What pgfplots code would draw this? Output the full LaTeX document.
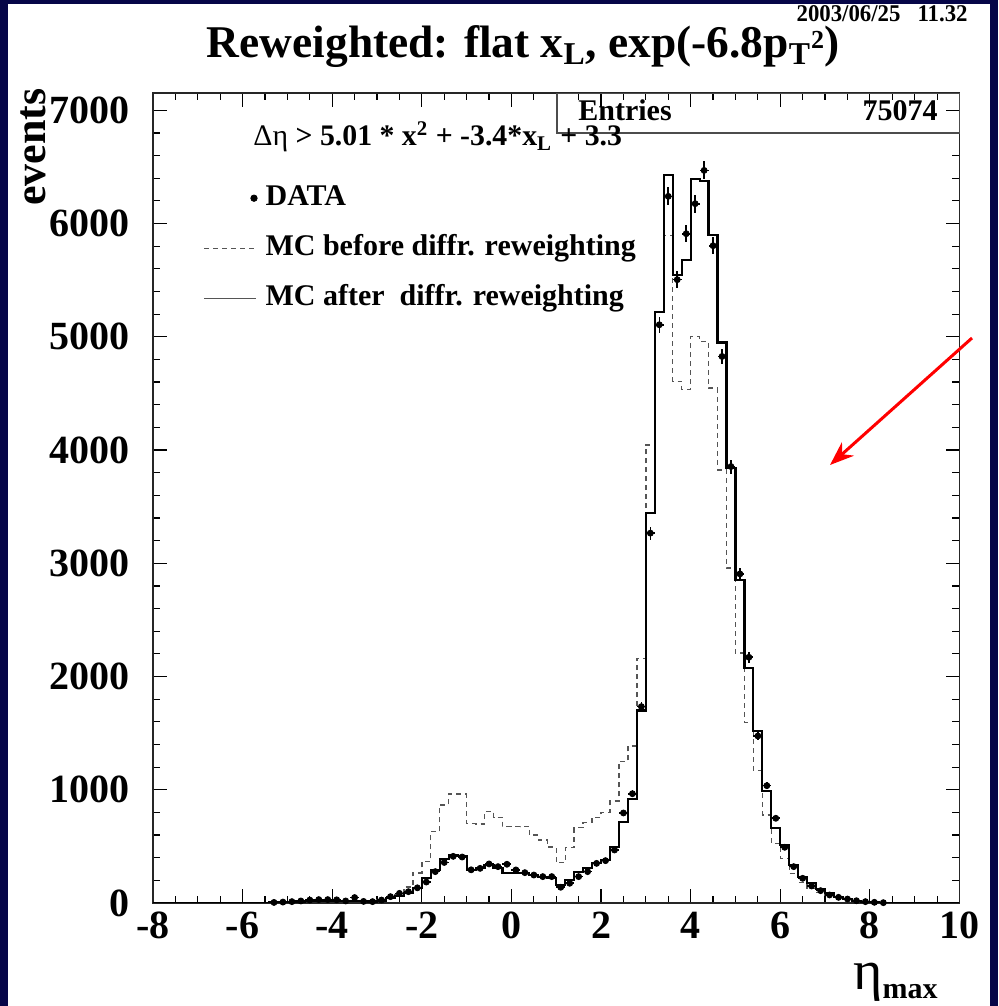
\documentclass[border=0pt]{standalone}
\usepackage{fontspec}
\setmainfont{Liberation Serif}
\usepackage{pgfplots}
\pgfplotsset{compat=1.18}
\usepackage{pgfplotstable}
\usetikzlibrary{arrows.meta}
\definecolor{navy}{RGB}{6,6,72}
\definecolor{dashgray}{RGB}{85,85,85}

\pgfplotstableread{
x after before
-8.0 0 0
-6.0 1 1
-5.8 2 2
-5.6 3 4
-5.4 5 6
-5.2 8 9
-5.0 10 12
-4.8 13 15
-4.6 16 18
-4.4 18 20
-4.2 20 22
-4.0 21 23
-3.8 20 22
-3.6 18 20
-3.4 15 17
-3.2 14 16
-3.0 20 25
-2.8 41 50
-2.6 60 75
-2.4 91 140
-2.2 130 265
-2.0 218 365
-1.8 292 630
-1.6 386 866
-1.4 424 962
-1.2 418 962
-1.0 292 700
-0.8 306 698
-0.6 336 810
-0.4 306 755
-0.2 268 674
0.0 268 674
0.2 262 678
0.4 247 601
0.6 233 557
0.8 218 495
1.0 159 355
1.2 203 490
1.4 277 665
1.6 306 710
1.8 350 755
2.0 380 800
2.2 492 900
2.4 714 1248
2.6 916 1385
2.8 1700 2161
3.0 3443 4046
3.2 5218 5218
3.4 6431 5892
3.6 5548 4605
3.8 5680 4532
4.0 6393 5003
4.2 6372 4959
4.4 5901 4547
4.6 4950 3825
4.8 3840 2957
5.0 2853 2206
5.2 2073 1593
5.4 1522 1169
5.6 992 777
5.8 665 527
6.0 512 395
6.2 336 260
6.4 233 180
6.6 174 130
6.8 121 95
7.0 86 65
7.2 56 42
7.4 35 28
7.6 20 17
7.8 12 10
8.0 6 5
8.2 3 3
8.4 1 1
8.6 0 0
10.0 0 0
}\histtab

\pgfplotstableread{
x ex y ey
-5.3 0.1 5 3
-5.1 0.1 8 4
-4.9 0.1 12 5
-4.7 0.1 18 5
-4.5 0.1 26 6
-4.3 0.1 30 6
-4.1 0.1 30 6
-3.9 0.1 28 6
-3.7 0.1 18 5
-3.5 0.1 48 16
-3.3 0.1 14 5
-3.1 0.1 12 4
-2.9 0.1 26 6
-2.7 0.1 56 8
-2.5 0.1 85 10
-2.3 0.1 100 11
-2.1 0.1 134 12
-1.9 0.1 185 14
-1.7 0.1 277 17
-1.5 0.1 358 19
-1.3 0.1 412 20
-1.1 0.1 406 20
-0.9 0.1 293 17
-0.7 0.1 306 17
-0.5 0.1 345 19
-0.3 0.1 321 18
-0.1 0.1 342 18
0.1 0.1 292 17
0.3 0.1 268 16
0.5 0.1 247 16
0.7 0.1 233 15
0.9 0.1 233 15
1.1 0.1 139 12
1.3 0.1 174 13
1.5 0.1 233 15
1.7 0.1 277 17
1.9 0.1 350 19
2.1 0.1 374 19
2.3 0.1 468 22
2.5 0.1 795 28
2.7 0.1 965 31
2.9 0.1 1734 42
3.1 0.1 3266 57
3.3 0.1 5106 71
3.5 0.1 6240 79
3.7 0.1 5504 74
3.9 0.1 5910 77
4.1 0.1 6175 79
4.3 0.1 6469 80
4.5 0.1 5804 76
4.7 0.1 4826 69
4.9 0.1 3854 62
5.1 0.1 2906 54
5.3 0.1 2170 47
5.5 0.1 1475 38
5.7 0.1 1036 32
5.9 0.1 748 27
6.1 0.1 492 22
6.3 0.1 321 18
6.5 0.1 218 15
6.7 0.1 150 12
6.9 0.1 109 10
7.1 0.1 71 8
7.3 0.1 50 7
7.5 0.1 35 6
7.7 0.1 20 4
7.9 0.1 12 3
8.1 0.1 6 2
8.3 0.1 3 2
}\datatab

\begin{document}
\begin{tikzpicture}[x=0.5pt,y=0.5pt]
\useasboundingbox (0,0) rectangle (998,1006);
\fill[navy] (0,0) rectangle (998,1006);
\fill[white] (8,0) rectangle (990,1002);
\begin{axis}[
  at={(76.5pt,51.5pt)}, anchor=south west,
  scale only axis, width=403.25pt, height=404.85pt,
  xmin=-8, xmax=10, ymin=0, ymax=7150,
  xtick={-8,-6,...,10}, minor x tick num=3,
  ytick={0,1000,...,7000}, minor y tick num=4,
  major tick length=7pt, minor tick length=3.6pt,
  tick style={black, line width=0.6pt},
  axis line style={line width=0.9pt, black!85},
  /pgf/number format/assume math mode=true,
  /pgf/number format/1000 sep={},
  scaled y ticks=false,
  ticklabel style={font=\fontsize{20}{20}\selectfont\bfseries},
  yticklabel style={xshift=-8pt},
  xticklabel style={yshift=-1pt},
  legend cell align=left,
  legend style={at={(0.062,0.887)}, anchor=north west, draw=none, fill=none,
    inner sep=0pt, row sep=12pt, column sep=4pt,
    font=\fontsize{15}{15}\selectfont\bfseries,
    nodes={inner sep=0pt, text height=10pt, text depth=3pt}},
]
\addlegendimage{legend image code/.code={\fill[black] (25pt,0pt) circle (1.6pt);}}
\addlegendentry{DATA}
\addlegendimage{legend image code/.code={\draw[dashgray, line width=0.6pt, dash pattern=on 2.5pt off 2pt] (0pt,0pt) -- (26pt,0pt);}}
\addlegendentry{MC before diffr. reweighting}
\addlegendimage{legend image code/.code={\draw[dashgray, line width=0.6pt] (0pt,0pt) -- (26pt,0pt);}}
\addlegendentry{MC after\ \ diffr. reweighting}

\addplot[forget plot, const plot, dashgray, line width=0.7pt, dash pattern=on 2.5pt off 2pt]
  table[x=x, y=before] {\histtab};
\addplot[forget plot, const plot, black, line width=1.1pt]
  table[x=x, y=after] {\histtab};
\addplot[forget plot, only marks, mark=*, mark size=1.5pt, black,
  error bars/.cd, x dir=both, x explicit, y dir=both, y explicit,
  error mark=none, error bar style={line width=0.8pt}]
  table[x=x, y=y, x error=ex, y error=ey] {\datatab};
\end{axis}
% statistics box
\draw[black!70, line width=0.6pt] (557,873) rectangle (959.5,912.7);
\node[anchor=base west, inner sep=0pt, font=\fontsize{15}{15}\selectfont\bfseries] at (578,885) {Entries};
\node[anchor=base east, inner sep=0pt, font=\fontsize{15}{15}\selectfont\bfseries] at (938,885) {75074};
% cut formula
\node[anchor=base west, inner sep=0pt, font=\fontsize{14.9}{14.9}\selectfont] (cut) at (253,860)
  {Δη \bfseries > 5.01 * x\textsuperscript{2} + -3.4*x\textsubscript{L}};
\node[anchor=base west, inner sep=0pt, font=\fontsize{14.9}{14.9}\selectfont\bfseries] at (cut.base east)
  {\ + 3.3};
% title and date
\node[anchor=base, inner sep=0pt, font=\fontsize{22.7}{22.7}\selectfont\bfseries] at (523,948)
  {Reweighted: flat x\textsubscript{L}, exp(-6.8p\textsubscript{T}\raisebox{0.2em}{\fontsize{13}{13}\selectfont 2})};
\node[anchor=base east, inner sep=0pt, font=\fontsize{12}{12}\selectfont\bfseries] at (968,984)
  {\scalebox{0.95}[1]{2003/06/25\ \ \ 11.32}};
% axis titles
\node[rotate=90, anchor=base east, inner sep=0pt, font=\fontsize{22}{22}\selectfont\bfseries] at (45,918) {events};
\node[anchor=base west, inner sep=0pt] at (853,17)
  {\fontsize{28}{28}\selectfont η\raisebox{-5pt}{\fontsize{15}{15}\selectfont\bfseries max}};
% annotation arrow
\draw[red, line width=1.5pt, -{Stealth[length=12pt, width=9pt]}] (972,668) -- (830,541);
\end{tikzpicture}
\end{document}
